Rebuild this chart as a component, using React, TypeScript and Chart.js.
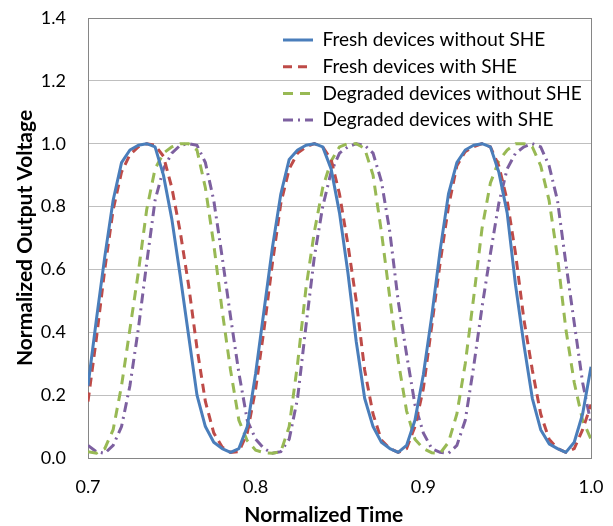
import React, { useEffect, useRef } from "react";
import { Chart, registerables } from "chart.js";

Chart.register(...registerables);

const timeValues = [
  0.700, 0.705, 0.710, 0.715, 0.720, 0.725, 0.730, 0.735, 0.740, 0.745,
  0.750, 0.755, 0.760, 0.765, 0.770, 0.775, 0.780, 0.785, 0.790, 0.795,
  0.800, 0.805, 0.810, 0.815, 0.820, 0.825, 0.830, 0.835, 0.840, 0.845,
  0.850, 0.855, 0.860, 0.865, 0.870, 0.875, 0.880, 0.885, 0.890, 0.895,
  0.900, 0.905, 0.910, 0.915, 0.920, 0.925, 0.930, 0.935, 0.940, 0.945,
  0.950, 0.955, 0.960, 0.965, 0.970, 0.975, 0.980, 0.985, 0.990, 0.995,
  1.000,
];

const freshWithoutShe = [
  0.23, 0.44, 0.64, 0.82, 0.94, 0.98, 0.995, 1.0, 0.99, 0.90,
  0.76, 0.58, 0.39, 0.20, 0.10, 0.05, 0.03, 0.018, 0.03, 0.10,
  0.27, 0.47, 0.67, 0.84, 0.95, 0.98, 0.995, 1.0, 0.99, 0.92,
  0.78, 0.59, 0.37, 0.19, 0.10, 0.05, 0.03, 0.018, 0.04, 0.12,
  0.265, 0.45, 0.66, 0.84, 0.94, 0.98, 0.995, 1.0, 0.99, 0.91,
  0.78, 0.55, 0.36, 0.19, 0.09, 0.045, 0.03, 0.018, 0.05, 0.14,
  0.29,
];

const freshWithShe = [
  0.18, 0.38, 0.60, 0.79, 0.91, 0.965, 0.99, 1.0, 0.995, 0.96,
  0.86, 0.72, 0.55, 0.35, 0.18, 0.08, 0.035, 0.018, 0.02, 0.08,
  0.22, 0.41, 0.62, 0.81, 0.92, 0.97, 0.99, 1.0, 0.99, 0.95,
  0.84, 0.68, 0.50, 0.28, 0.14, 0.057, 0.03, 0.018, 0.03, 0.10,
  0.22, 0.42, 0.62, 0.80, 0.93, 0.975, 0.99, 1.0, 0.99, 0.93,
  0.82, 0.65, 0.44, 0.28, 0.14, 0.06, 0.03, 0.018, 0.03, 0.09,
  0.17,
];

const degradedWithoutShe = [
  0.02, 0.015, 0.03, 0.09, 0.23, 0.41, 0.59, 0.79, 0.92, 0.97,
  0.99, 1.0, 1.0, 0.98, 0.86, 0.68, 0.47, 0.28, 0.12, 0.055,
  0.025, 0.017, 0.015, 0.02, 0.10, 0.30, 0.54, 0.72, 0.86, 0.945,
  0.99, 1.0, 1.0, 0.985, 0.90, 0.72, 0.51, 0.31, 0.15, 0.06,
  0.03, 0.017, 0.015, 0.05, 0.14, 0.30, 0.51, 0.73, 0.875, 0.945,
  0.98, 1.0, 1.0, 0.99, 0.93, 0.82, 0.64, 0.41, 0.24, 0.12,
  0.06,
];

const degradedWithShe = [
  0.04, 0.02, 0.015, 0.04, 0.10, 0.23, 0.41, 0.62, 0.82, 0.92,
  0.97, 0.995, 1.0, 0.995, 0.94, 0.82, 0.64, 0.45, 0.27, 0.12,
  0.06, 0.03, 0.015, 0.02, 0.06, 0.19, 0.42, 0.64, 0.80, 0.91,
  0.97, 0.99, 1.0, 0.995, 0.97, 0.88, 0.72, 0.50, 0.33, 0.17,
  0.08, 0.03, 0.018, 0.015, 0.04, 0.12, 0.29, 0.48, 0.65, 0.81,
  0.92, 0.97, 0.99, 1.0, 0.99, 0.93, 0.82, 0.62, 0.43, 0.24,
  0.11,
];

const seriesLabels = [
  "Fresh devices without SHE",
  "Fresh devices with SHE",
  "Degraded devices without SHE",
  "Degraded devices with SHE",
];

const xTickValues = [0.7, 0.8, 0.9, 1.0];
const yTickValues = [0.0, 0.2, 0.4, 0.6, 0.8, 1.0, 1.2, 1.4];

const FONT = "Lato, 'Open Sans', 'DejaVu Sans', sans-serif";

const toPoints = (ys: number[]) => timeValues.map((t, i) => ({ x: t, y: ys[i] }));

const insideLegend = {
  id: "insideLegend",
  afterLayout(chart: any) {
    const lg = chart.legend;
    if (!lg) return;
    const area = chart.chartArea;
    const pad = lg.options.labels.padding;
    lg.left = area.left + 195 - pad;
    lg.top = area.top + 12.5 - pad;
    lg.right = chart.width;
    lg.bottom = area.bottom;
    lg.width = lg.right - lg.left;
    lg.height = lg.bottom - lg.top;
  },
};

export default function App() {
  const canvasRef = useRef<HTMLCanvasElement | null>(null);

  useEffect(() => {
    document.body.style.margin = "0";
    const canvas = canvasRef.current;
    if (!canvas) return;
    Chart.defaults.font.family = FONT;
    Chart.defaults.color = "#000000";

    const defaultGenerate = (Chart.defaults as any).plugins.legend.labels.generateLabels;

    const chart = new Chart(canvas, {
      type: "line",
      data: {
        datasets: [
          {
            label: seriesLabels[0],
            data: toPoints(freshWithoutShe),
            borderColor: "#4a7ebb",
            backgroundColor: "#4a7ebb",
            borderWidth: 3,
            pointRadius: 0,
            pointStyle: "line",
            tension: 0,
            borderJoinStyle: "round",
          },
          {
            label: seriesLabels[1],
            data: toPoints(freshWithShe),
            borderColor: "#be4b48",
            backgroundColor: "#be4b48",
            borderWidth: 3,
            borderDash: [9, 6],
            pointRadius: 0,
            pointStyle: "line",
            tension: 0,
          },
          {
            label: seriesLabels[2],
            data: toPoints(degradedWithoutShe),
            borderColor: "#98b954",
            backgroundColor: "#98b954",
            borderWidth: 3,
            borderDash: [10, 7],
            pointRadius: 0,
            pointStyle: "line",
            tension: 0,
          },
          {
            label: seriesLabels[3],
            data: toPoints(degradedWithShe),
            borderColor: "#7d60a0",
            backgroundColor: "#7d60a0",
            borderWidth: 3,
            borderDash: [10, 5, 2, 5],
            pointRadius: 0,
            pointStyle: "line",
            tension: 0,
          },
        ],
      },
      options: {
        responsive: false,
        animation: false,
        layout: { padding: { left: 0, right: 22, top: 18, bottom: 0 } },
        plugins: {
          tooltip: { enabled: false },
          legend: {
            position: "chartArea",
            align: "start",
            fullSize: false,
            labels: {
              usePointStyle: true,
              pointStyleWidth: 30,
              padding: 7.7,
              color: "#000000",
              font: { size: 19, family: FONT },
              generateLabels: (c: any) => {
                const items = defaultGenerate(c);
                items.forEach((item: any, i: number) => {
                  const ds = c.data.datasets[item.datasetIndex ?? i];
                  item.pointStyle = "line";
                  item.lineDash = ds.borderDash || [];
                  item.lineWidth = ds.borderWidth;
                  item.strokeStyle = ds.borderColor;
                  item.fillStyle = ds.borderColor;
                  item.lineCap = "butt";
                });
                return items;
              },
            },
          },
        },
        scales: {
          x: {
            type: "linear",
            min: 0.7,
            max: 1.0,
            afterBuildTicks: (scale: any) => {
              scale.ticks = xTickValues.map((v) => ({ value: v }));
            },
            afterFit: (scale: any) => {
              scale.height = 68;
              scale.paddingLeft = 0;
              scale.paddingRight = 0;
            },
            ticks: {
              padding: 18,
              color: "#000000",
              font: { size: 18, family: FONT },
              callback: (v: any) => Number(v).toFixed(1),
            },
            grid: {
              drawTicks: false,
              color: (ctx: any) =>
                ctx.tick && Math.abs(ctx.tick.value - 1.0) < 1e-6 ? "#868686" : "rgba(0,0,0,0)",
            },
            border: { color: "#868686", width: 1 },
            title: {
              display: true,
              text: "Normalized Time\u2003\u2003",
              color: "#000000",
              font: { size: 21, weight: "bold", family: FONT, lineHeight: 1 },
              padding: { top: 0, bottom: 0 },
            },
          },
          y: {
            type: "linear",
            min: 0,
            max: 1.4,
            afterBuildTicks: (scale: any) => {
              scale.ticks = yTickValues.map((v) => ({ value: v }));
            },
            afterFit: (scale: any) => {
              scale.width = 88;
              scale.paddingTop = 0;
              scale.paddingBottom = 0;
            },
            ticks: {
              padding: 22,
              color: "#000000",
              font: { size: 18, family: FONT },
              callback: (v: any) => Number(v).toFixed(1),
            },
            grid: {
              drawTicks: false,
              color: (ctx: any) =>
                ctx.tick && Math.abs(ctx.tick.value - 1.4) < 1e-6 ? "#868686" : "#bfbfbf",
            },
            border: { color: "#868686", width: 1 },
            title: {
              display: true,
              text: "Normalized Output Voltage",
              color: "#000000",
              font: { size: 21, weight: "bold", family: FONT, lineHeight: 1 },
              padding: { top: 14.5, bottom: 0 },
            },
          },
        },
      },
      plugins: [insideLegend],
    } as any);

    return () => {
      chart.destroy();
    };
  }, []);

  return (
    <div style={{ width: 613, height: 526, background: "#ffffff" }}>
      <canvas ref={canvasRef} width={613} height={526} style={{ display: "block" }} />
    </div>
  );
}
